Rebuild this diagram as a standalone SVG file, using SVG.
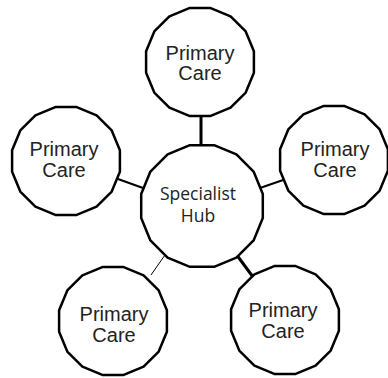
<svg xmlns="http://www.w3.org/2000/svg" width="388" height="378" viewBox="0 0 388 378">
<style>
.node{fill:#fff;stroke:#000;stroke-width:2.5;stroke-linejoin:round}
.pc{font-family:"Liberation Sans",Arial,sans-serif;font-size:20px;fill:#222;text-anchor:middle}
.hub{font-family:"Open Sans","Noto Sans",sans-serif;font-size:17.5px;fill:#222;text-anchor:middle}
.c{stroke:#000;fill:none}
</style>
<defs>
<polygon id="p16" points="53.9,10.7 45.7,30.6 30.6,45.7 10.7,53.9 -10.7,53.9 -30.6,45.7 -45.7,30.6 -53.9,10.7 -53.9,-10.7 -45.7,-30.6 -30.6,-45.7 -10.7,-53.9 10.7,-53.9 30.6,-45.7 45.7,-30.6 53.9,-10.7"/>
</defs>
<g id="connectors">
<line class="c" x1="201" y1="116" x2="201" y2="146" stroke-width="3"/>
<line class="c" x1="118" y1="179" x2="143" y2="188" stroke-width="2"/>
<line class="c" x1="260" y1="188" x2="286" y2="179" stroke-width="2"/>
<line class="c" x1="165" y1="255" x2="151" y2="275" stroke-width="1" stroke="#444"/>
<line class="c" x1="236" y1="254" x2="253" y2="277" stroke-width="3"/>
</g>
<g id="hub">
<polygon class="node" points="262.8,218.1 253.6,240.4 236.4,257.6 214.1,266.8 189.9,266.8 167.6,257.6 150.4,240.4 141.2,218.1 141.2,193.9 150.4,171.6 167.6,154.4 189.9,145.2 214.1,145.2 236.4,154.4 253.6,171.6 262.8,193.9"/>
<text class="hub" x="198" y="200">Specialist</text>
<text class="hub" x="198" y="222">Hub</text>
</g>
<g id="pc-top">
<use href="#p16" class="node" transform="translate(200,62)"/>
<text class="pc" x="200" y="60">Primary</text>
<text class="pc" x="200" y="80">Care</text>
</g>
<g id="pc-left">
<use href="#p16" class="node" transform="translate(66,161)"/>
<text class="pc" x="64" y="156">Primary</text>
<text class="pc" x="64" y="177">Care</text>
</g>
<g id="pc-right">
<use href="#p16" class="node" transform="translate(334,160)"/>
<text class="pc" x="335" y="156">Primary</text>
<text class="pc" x="335" y="177">Care</text>
</g>
<g id="pc-bottom-left">
<use href="#p16" class="node" transform="translate(113,321)"/>
<text class="pc" x="114" y="321">Primary</text>
<text class="pc" x="114" y="342">Care</text>
</g>
<g id="pc-bottom-right">
<use href="#p16" class="node" transform="translate(285,320)"/>
<text class="pc" x="283" y="317">Primary</text>
<text class="pc" x="283" y="338">Care</text>
</g>
</svg>
